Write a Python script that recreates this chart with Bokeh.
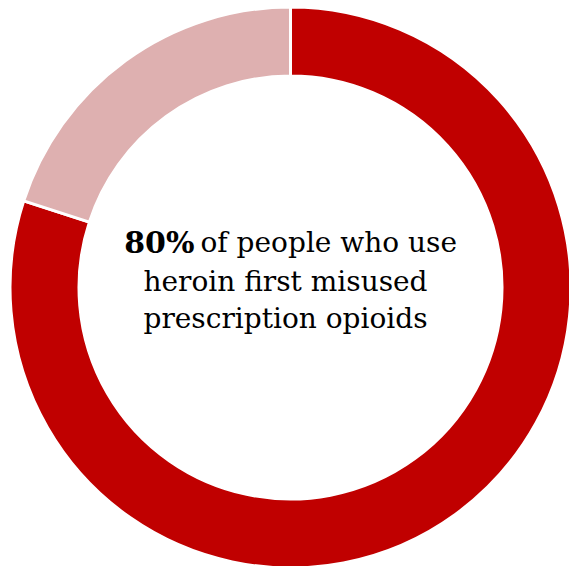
from bokeh.plotting import figure
from bokeh.embed import file_html
from bokeh.resources import INLINE
from bokeh.core.properties import value
from bokeh.models import ColumnDataSource
import math

categories = ["Misused prescription opioids first", "Other"]
shares = [80, 20]
colors = ["#C00000", "#DEB0B0"]
headline = "80%"
line1_rest = "of people who use"
line2 = "heroin first misused"
line3 = "prescription opioids"

W, H = 569, 566
p = figure(width=W, height=H, output_backend="svg", toolbar_location=None,
           x_range=(0, W), y_range=(0, H), min_border=0,
           outline_line_color=None, background_fill_color="white",
           border_fill_color="white")
p.axis.visible = False
p.grid.visible = False

def wx(x):
    return x

def wy(y):
    return H - y

cx, cy = wx(290), wy(287)
total = sum(shares)
starts, ends = [], []
acc = 0.0
for s in shares:
    a0 = math.pi / 2 - 2 * math.pi * acc / total
    acc += s
    a1 = math.pi / 2 - 2 * math.pi * acc / total
    starts.append(a0)
    ends.append(a1)

src = ColumnDataSource(dict(start=starts, end=ends, color=colors, cat=categories))
p.annular_wedge(x=cx, y=cy, inner_radius=211.5, outer_radius=280.5,
                start_angle="start", end_angle="end", direction="clock",
                fill_color="color", line_color="white", line_width=3, source=src)

font = value("DejaVu Serif")
fs = "28px"
split_x = 194
p.text(x=[wx(split_x)], y=[wy(242)], text=[headline], text_font=font, text_font_size="30px",
       text_font_style="bold", text_align="right", text_baseline="middle", text_color="black")
p.text(x=[wx(split_x + 6)], y=[wy(242)], text=[line1_rest], text_font=font, text_font_size=fs,
       text_align="left", text_baseline="middle", text_color="black")
p.text(x=[wx(285), wx(285)], y=[wy(281), wy(318)], text=[line2, line3], text_font=font,
       text_font_size=fs, text_align="center", text_baseline="middle", text_color="black")

open("out.html", "w").write(file_html(p, INLINE))
